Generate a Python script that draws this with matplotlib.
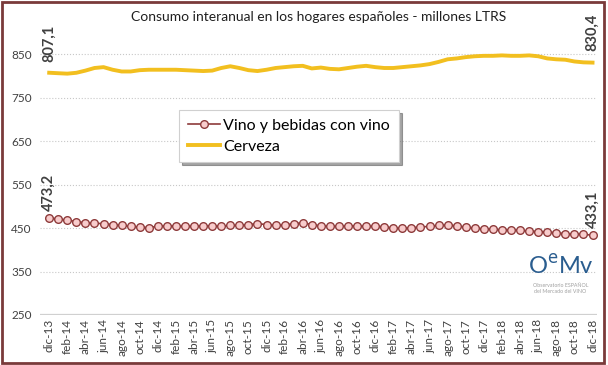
import matplotlib.pyplot as plt
from matplotlib.patches import Rectangle

plt.rcParams['font.family'] = ['Lato', 'DejaVu Sans']

# meses dic-13 .. dic-18 (61 puntos)
meses = ['ene', 'feb', 'mar', 'abr', 'may', 'jun', 'jul', 'ago', 'sep', 'oct', 'nov', 'dic']
etiquetas = ['dic-13']
for a in range(14, 19):
    for m in meses:
        etiquetas.append('%s-%d' % (m, a))

vino = [473.2, 471, 468, 465, 462, 461, 460, 458, 456, 454,
        452, 451, 454, 455, 455, 454, 454, 455, 455, 454,
        456, 456, 458, 460, 458, 456, 457, 460, 462, 458,
        455, 454, 454, 455, 455, 454, 454, 453, 450, 449,
        451, 452, 454, 456, 457, 455, 452, 450, 448, 447,
        446, 446, 445, 443, 442, 441, 439, 437, 436, 436,
        433.1]

cerveza = [807.1, 806, 805, 807, 812, 818, 820, 814, 810, 810,
           813, 814, 814, 814, 814, 813, 812, 811, 812, 818,
           822, 818, 813, 811, 814, 818, 820, 822, 823, 817,
           819, 816, 815, 818, 821, 823, 820, 818, 818, 820,
           822, 824, 827, 832, 838, 840, 843, 845, 846, 846,
           847, 846, 846, 847, 845, 840, 838, 837, 833, 831,
           830.4]

yticks = [250, 350, 450, 550, 650, 750, 850]

x = list(range(len(etiquetas)))

fig = plt.figure(figsize=(6.08, 3.65), dpi=100)
ax = fig.add_axes([0.066, 0.137, 0.916, 0.828])

ax.plot(x, cerveza, color='#f2bf1f', lw=2.8, label='Cerveza', zorder=3)
ax.plot(x, vino, color='#8e3b3b', lw=1.2, marker='o', ms=5.5, mfc='#f8cccc',
        mec='#8e3b3b', mew=1.0, label='Vino y bebidas con vino', zorder=4)

ax.set_ylim(250, 945)
ax.set_xlim(-1, len(x) - 0.5)
ax.set_yticks(yticks)
ax.set_xticks(x[::2])
ax.set_xticklabels(etiquetas[::2], rotation=90, fontsize=8.5, color='#404040')
ax.tick_params(axis='y', labelsize=8.5, colors='#404040', length=0, pad=6)
ax.tick_params(axis='x', length=0, pad=3)
for yv in yticks[1:]:
    ax.axhline(yv, color='#c8c8c8', lw=0.8, ls=':', zorder=1)
ax.axhline(250, color='#d0d0d0', lw=1.6, zorder=1)
for s in ax.spines.values():
    s.set_visible(False)

ax.set_title('Consumo interanual en los hogares españoles - millones LTRS',
             fontsize=10, color='#202020', pad=-6, y=1.0)

# etiquetas de datos
lab = dict(rotation=90, fontsize=10.5, fontweight='bold', color='#404040',
           ha='center', va='bottom')
ax.annotate('807,1', (x[0], cerveza[0]), xytext=(0, 8), textcoords='offset points', **lab)
ax.annotate('830,4', (x[-1], cerveza[-1]), xytext=(0, 8), textcoords='offset points', **lab)
ax.annotate('473,2', (x[0], vino[0]), xytext=(0, 5), textcoords='offset points', **lab)
ax.annotate('433,1', (x[-1], vino[-1]), xytext=(0, 5), textcoords='offset points', **lab)

h, l = ax.get_legend_handles_labels()
leg = ax.legend(h[::-1], l[::-1], loc='upper left', bbox_to_anchor=(0.25, 0.678),
                fontsize=11.5, frameon=True, fancybox=False, shadow=True,
                handlelength=2.0, handletextpad=0.2, borderpad=0.55, labelspacing=0.4,
                borderaxespad=0)
leg.get_frame().set_edgecolor('#d0d0d0')
leg.get_frame().set_linewidth(0.8)

# logo OeMv
fig.text(0.922, 0.238, r'O$^{\mathrm{e}}$Mv', fontsize=17, color='#2a5d8f',
         ha='center', va='bottom')
fig.text(0.922, 0.214, 'Observatorio ESPAÑOL', fontsize=3.8, color='#a0a0a0', ha='center')
fig.text(0.922, 0.196, 'del Mercado del VINO', fontsize=3.8, color='#a0a0a0', ha='center')

# marco
fig.patches.append(Rectangle((0.004, 0.006), 0.99, 0.988, transform=fig.transFigure,
                             fill=False, ec='#7a3a3a', lw=2.0))

fig.savefig('out.png', dpi=100)
